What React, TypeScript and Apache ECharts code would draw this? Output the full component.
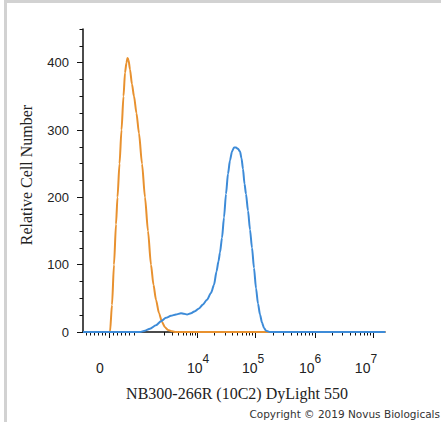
import React, { useEffect, useRef } from "react";
import * as echarts from "echarts";

// x values are display (channel) units 0..1000 of the biexponential axis
const orangeX = [0, 89.4, 96.0, 102.6, 109.3, 114.2, 120.9, 127.5, 134.1, 139.1, 144.0, 147.3, 150.7, 155.6, 162.2, 168.9, 177.1, 185.4, 195.4, 205.3, 215.2, 225.1, 233.4, 241.7, 251.6, 261.6, 271.5, 281.4, 294.7, 307.9, 1000];
const orangeY = [0, 0, 40, 100, 160, 200, 250, 300, 350, 385, 400, 407, 404, 390, 368, 350, 325, 295, 250, 200, 150, 100, 70, 48, 28, 15, 7, 3, 1, 0, 0];

const blueX = [0, 188.7, 205.3, 221.8, 241.7, 258.3, 274.8, 291.4, 307.9, 324.5, 334.4, 344.4, 357.6, 370.9, 384.1, 397.4, 410.6, 423.8, 433.8, 442.1, 448.7, 453.6, 460.3, 466.9, 473.5, 480.1, 486.8, 493.4, 500.0, 506.6, 513.3, 519.9, 524.8, 529.8, 534.8, 539.7, 546.4, 553.0, 559.6, 566.2, 572.9, 579.5, 586.1, 592.7, 599.3, 606.0, 619.2, 1000];
const blueY = [0, 0, 2, 5, 10, 16, 21, 24, 26, 28, 27, 26, 28, 31, 35, 41, 48, 58, 70, 90, 105, 118, 140, 170, 205, 235, 255, 268, 274, 274, 272, 268, 258, 242, 220, 205, 180, 152, 125, 95, 65, 42, 26, 14, 6, 2, 0, 0];

// axis ticks (display units): 0, 10^4, 10^5, 10^6, 10^7
const xMajorTicks = [86, 378, 570, 768, 960];
const xLabelPos = [56, 381, 563, 752, 937];
const xLabelText = ["{b|0}", "{b|10}{s|4}", "{b|10}{s|5}", "{b|10}{s|6}", "{b|10}{s|7}"];
const xZeroMinor = [10, 23, 36, 50, 63, 73, 99, 113, 126, 139, 152, 169];
const xDecade3 = 222;

const yMajor = [0, 100, 200, 300, 400];
const yMinor = [25, 50, 75, 125, 150, 175, 225, 250, 275, 325, 350, 375, 425, 450];

const xTitle = "NB300-266R (10C2) DyLight 550";
const yTitle = "Relative Cell Number";
const copyright = "Copyright \u00A9 2019 Novus Biologicals";

function buildMinorX(): number[] {
  const out = [...xZeroMinor];
  const starts = [xDecade3, ...xMajorTicks.slice(1)];
  for (let i = 0; i < starts.length - 1; i++) {
    const a = starts[i];
    const b = starts[i + 1];
    for (let k = 2; k <= 9; k++) out.push(a + (b - a) * Math.log10(k));
  }
  return out;
}

export default function App() {
  const ref = useRef<HTMLDivElement>(null);
  useEffect(() => {
    if (!ref.current) return;
    const chart = echarts.init(ref.current, null, { renderer: "svg" });
    const axisColor = "#111";
    const textColor = "#222";
    chart.setOption({
      animation: false,
      backgroundColor: "#fff",
      grid: { left: 83, right: 56, top: 29, bottom: 90 },
      xAxis: [
        {
          type: "value",
          min: 0,
          max: 1000,
          position: "bottom",
          axisLine: { show: true, lineStyle: { color: axisColor, width: 1.5 } },
          axisTick: { show: true, customValues: xMajorTicks, length: 6, lineStyle: { color: axisColor, width: 1 } },
          axisLabel: {
            customValues: xLabelPos,
            margin: 21,
            formatter: (v: number) => {
              const i = xLabelPos.indexOf(v);
              return i >= 0 ? xLabelText[i] : "";
            },
            rich: {
              b: { fontSize: 14, lineHeight: 22, verticalAlign: "bottom", color: textColor, fontFamily: "Liberation Sans" },
              s: { fontSize: 12, lineHeight: 22, verticalAlign: "top", color: textColor, fontFamily: "Liberation Sans" },
            },
          },
          splitLine: { show: false },
        },
        {
          type: "value",
          min: 0,
          max: 1000,
          position: "bottom",
          axisLine: { show: false },
          axisTick: { show: true, customValues: buildMinorX(), length: 3.5, lineStyle: { color: axisColor, width: 1 } },
          axisLabel: { show: false },
          splitLine: { show: false },
        },
      ],
      yAxis: [
        {
          type: "value",
          min: 0,
          max: 450,
          axisLine: { show: true, lineStyle: { color: axisColor, width: 1.5 } },
          axisTick: { show: true, customValues: yMajor, length: 6, lineStyle: { color: axisColor, width: 1 } },
          axisLabel: { customValues: yMajor, margin: 14, fontSize: 13, color: textColor, fontFamily: "Liberation Sans" },
          splitLine: { show: false },
        },
        {
          type: "value",
          min: 0,
          max: 450,
          position: "left",
          axisLine: { show: false },
          axisTick: { show: true, customValues: yMinor, length: 3.5, lineStyle: { color: axisColor, width: 1 } },
          axisLabel: { show: false },
          splitLine: { show: false },
        },
      ],
      series: [
        {
          type: "line",
          xAxisIndex: 0,
          yAxisIndex: 0,
          data: orangeX.map((x, i) => [x, orangeY[i]]),
          showSymbol: false,
          smooth: 0.25,
          smoothMonotone: "x",
          lineStyle: { color: "#E8912F", width: 2 },
          itemStyle: { color: "#E8912F" },
          z: 3,
        },
        {
          type: "line",
          xAxisIndex: 0,
          yAxisIndex: 0,
          data: blueX.map((x, i) => [x, blueY[i]]),
          showSymbol: false,
          smooth: 0.25,
          smoothMonotone: "x",
          lineStyle: { color: "#3D8BD8", width: 2 },
          itemStyle: { color: "#3D8BD8" },
          z: 4,
        },
      ],
      graphic: [
        { type: "rect", left: 4, top: 0, shape: { width: 3, height: 422 }, style: { fill: "#d2d2d2" } },
        { type: "rect", left: 4, top: 0, shape: { width: 437, height: 3 }, style: { fill: "#d2d2d2" } },
        {
          type: "text",
          x: 26,
          y: 175,
          rotation: Math.PI / 2,
          style: { text: yTitle, fontFamily: "Liberation Serif", fontSize: 16, fill: textColor, align: "center", verticalAlign: "middle" },
        },
        {
          type: "text",
          x: 237,
          y: 393,
          style: { text: xTitle, fontFamily: "Liberation Serif", fontSize: 16, fill: textColor, align: "center", verticalAlign: "middle" },
        },
        {
          type: "text",
          x: 440,
          y: 414,
          style: { text: copyright, fontFamily: "DejaVu Sans", fontSize: 10.5, fill: "#333", align: "right", verticalAlign: "middle" },
        },
      ],
    });
    return () => chart.dispose();
  }, []);
  return <div ref={ref} style={{ position: "fixed", left: 0, top: 0, width: 441, height: 422 }} />;
}
